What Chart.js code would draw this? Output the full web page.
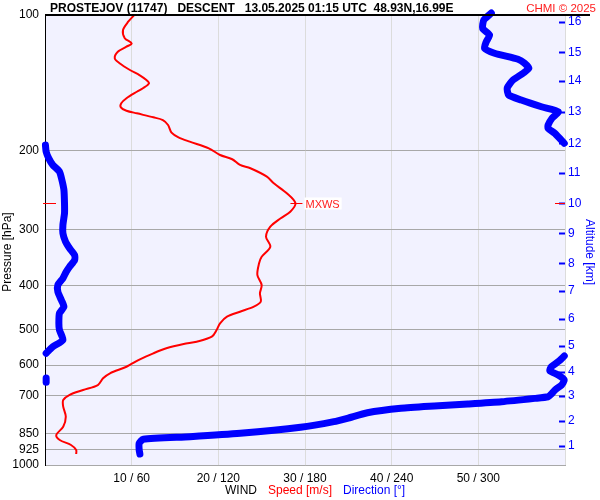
<!DOCTYPE html>
<html>
<head>
<meta charset="utf-8">
<script src="https://cdn.jsdelivr.net/npm/chart.js@4.4.1/dist/chart.umd.min.js"></script>
<style>
  html, body { margin: 0; padding: 0; background: #fff; }
  canvas { display: block; }
</style>
</head>
<body>
<canvas id="sounding" width="600" height="500"></canvas>
<script>
// left axis pressure levels [hPa]
const pressureTicks = [100, 200, 300, 400, 500, 600, 700, 850, 925, 1000];
// right axis: altitude [km] and the pressure level where each tick sits
const altitudeKm = [16, 15, 14, 13, 12, 11, 10, 9, 8, 7, 6, 5, 4, 3, 2, 1];
const altitudePressure = [103.5, 121, 140.2, 164, 192.8, 224.1, 262, 305.6, 356.3, 410, 473.8, 543.2, 620.5, 701.5, 798.5, 907.4];
// bottom axis labels: speed [m/s] / direction [deg]
const speedTicks = [10, 20, 30, 40, 50];
const directionTicks = [60, 120, 180, 240, 300];

// wind speed profile
const speedPressure = [100, 103.5, 108, 112.6, 115.6, 117.6, 120.7, 124.8, 128, 132.5, 136, 139.5, 141.9, 145.5, 148.1, 153.1, 157.1, 160.4, 163.2, 165.4, 168.8, 171.2, 175.6, 182.6, 187, 191.2, 197.8, 204.7, 209.2, 215.4, 219.1, 228.7, 236.6, 249, 262, 273.6, 283, 295.4, 310.9, 327.3, 344.5, 356.3, 378.2, 398.1, 415.4, 433.6, 444.9, 456.4, 468.2, 484.3, 501.2, 518.7, 532.1, 538.4, 550.4, 564.7, 582.3, 604.8, 625.5, 641.8, 664.2, 681.4, 699.1, 717.1, 742, 781, 822, 857.7, 880, 902.7, 926.1, 945.3];
const speedValues = [10.3, 9.6, 9.0, 9.2, 10.0, 9.4, 8.4, 8.05, 8.6, 9.8, 10.9, 11.7, 12.0, 11.3, 10.6, 9.4, 8.8, 8.75, 9.4, 10.6, 12.5, 13.6, 14.2, 14.6, 15.4, 16.7, 18.9, 20.2, 21.6, 22.5, 23.7, 25.6, 26.4, 27.9, 28.9, 28.3, 27.2, 26.0, 25.5, 26.0, 25.0, 24.7, 24.5, 25.0, 24.8, 24.9, 24.1, 22.5, 21.0, 20.2, 19.8, 19.25, 17.5, 16.0, 14.0, 12.5, 10.95, 9.4, 7.5, 6.7, 6.1, 4.4, 2.8, 2.1, 2.1, 2.4, 2.1, 1.3, 1.7, 3.0, 3.6, 3.6];

// wind direction profile, null = jump across 0/360
const dirPressure = [99, 102.6, 107.1, 110.8, 114.6, 118.6, 121.6, 125.4, 128, 131.4, 134.7, 139.5, 145.3, 150.6, 154.5, 159.9, 164, 169.6, 175.6, 178.6, 183.2, 192.8, null,
  194.5, 201.3, 208.2, 215.4, 222.9, 232.6, 244.8, 262, 275.9, 292.9, 305.6, 319, 330, 341.5, 350.4, 362.6, 372, 384.8, 398.1, 412, 429.9, 444.9, 460.2, 484.3, 501.2, 527.6, 546, 564.7, null,
  572.5, 589.4, 604.8, 617.2, 631, 647.3, 664.2, 681.4, 695.5, 705.2, 711.1, 723.4, 731.9, 739.5, 748.2, 765.2, 787.4, 801.2, 824.5, 850.5, 865.3, 876.9, 895, 926.1, 945.3, null,
  641, 655];
const dirValues = [309, 303.8, 303, 307.8, 305.5, 304.3, 311.2, 327.5, 332, 335, 331, 324, 320, 321, 329.7, 343.7, 355.3, 351, 348.3, 348.3, 353, 359.5, null,
  0.3, 0.8, 2.6, 5.4, 10, 11.7, 13.1, 13.5, 13.5, 12.4, 12.4, 14.2, 17, 20.5, 20.5, 17, 14.7, 12.4, 8.9, 8.9, 11.3, 13.1, 10, 9.6, 10, 12.4, 5.4, 0.8, null,
  359.5, 355.3, 350.6, 349.5, 355.3, 359.5, 357.6, 353, 350.6, 348.3, 339, 316, 292.7, 269.5, 246.4, 223.2, 209.3, 200, 176.9, 135.2, 100.4, 68, 65.2, 65.2, 65.7, null,
  0.8, 0.8];

// max wind marker
const mxwsPressure = 262;
const mxwsSpeed = 28.9;

const FONT = '"Liberation Sans", Arial, sans-serif';
Chart.defaults.font.family = FONT;
Chart.defaults.font.size = 12;
Chart.defaults.color = '#000';

function splitSegments(pres, vals) {
    var segs = [];
    var cur = [];
    pres.forEach(function (p, i) {
        if (p === null) {
            segs.push(cur);
            cur = [];
        } else {
            cur.push({ x: vals[i], y: p });
        }
    });
    segs.push(cur);
    return segs;
}

function hline(ctx, x1, x2, y) {
    ctx.beginPath();
    ctx.moveTo(x1, y);
    ctx.lineTo(x2, y);
    ctx.stroke();
}

const decorations = {
    id: 'decorations',
    beforeDraw: function (chart) {
        var a = chart.chartArea;
        var ctx = chart.ctx;
        ctx.save();
        ctx.fillStyle = '#f2f2ff';
        ctx.fillRect(a.left, a.top, a.right - a.left, a.bottom - a.top);
        ctx.restore();
    },
    afterDraw: function (chart) {
        var ctx = chart.ctx;
        var a = chart.chartArea;
        var ys = chart.scales.y;
        var xs = chart.scales.x;
        ctx.save();

        // top frame line
        ctx.strokeStyle = '#000';
        ctx.lineWidth = 2;
        hline(ctx, a.left, 590, a.top);

        // altitude tick marks
        ctx.strokeStyle = '#0000ff';
        ctx.lineWidth = 2;
        altitudePressure.forEach(function (p) {
            var y = Math.round(ys.getPixelForValue(p)) + 0.5;
            hline(ctx, a.right - 6, a.right, y);
        });

        // MXWS marker
        var my = Math.round(ys.getPixelForValue(mxwsPressure)) + 0.5;
        var mx = xs.getPixelForValue(mxwsSpeed);
        ctx.strokeStyle = '#ff0000';
        ctx.lineWidth = 1;
        hline(ctx, a.left - 2, a.left + 11, my);
        hline(ctx, a.right - 10, a.right, my);
        hline(ctx, mx - 5, mx + 7, my);
        ctx.font = '11px ' + FONT;
        ctx.textBaseline = 'middle';
        var w = ctx.measureText('MXWS').width;
        ctx.fillStyle = '#ffffff';
        ctx.fillRect(mx + 9, my - 6, w + 3, 12);
        ctx.fillStyle = '#ff2020';
        ctx.fillText('MXWS', mx + 10, my + 1);

        // title
        ctx.textBaseline = 'alphabetic';
        ctx.fillStyle = '#000';
        ctx.font = 'bold 12px ' + FONT;
        ctx.textAlign = 'left';
        ctx.fillText('PROSTEJOV (11747)   DESCENT   13.05.2025 01:15 UTC  48.93N,16.99E', 50, 12);
        ctx.font = '11.5px ' + FONT;
        ctx.fillStyle = '#ff2020';
        ctx.textAlign = 'right';
        ctx.fillText('CHMI \u00a9 2025', 596, 12);

        // bottom legend
        ctx.font = '12px ' + FONT;
        ctx.textAlign = 'left';
        ctx.textBaseline = 'middle';
        var x = 225;
        [['WIND', '#000'], ['Speed [m/s]', '#ff0000'], ['Direction [\u00b0]', '#0000ff']].forEach(function (t) {
            ctx.fillStyle = t[1];
            ctx.fillText(t[0], x, 491);
            x += ctx.measureText(t[0]).width + 11;
        });

        // axis titles
        ctx.textAlign = 'center';
        ctx.save();
        ctx.translate(8, 252);
        ctx.rotate(-Math.PI / 2);
        ctx.fillStyle = '#000';
        ctx.fillText('Pressure [hPa]', 0, 0);
        ctx.restore();
        ctx.save();
        ctx.translate(589, 252);
        ctx.rotate(Math.PI / 2);
        ctx.fillStyle = '#0000ff';
        ctx.fillText('Altitude [km]', 0, 0);
        ctx.restore();

        ctx.restore();
    }
};

var datasets = [{
    data: speedPressure.map(function (p, i) { return { x: speedValues[i], y: p }; }),
    xAxisID: 'x',
    yAxisID: 'y',
    borderColor: '#ff0000',
    borderWidth: 2,
    tension: 0.3,
    pointRadius: 0,
    showLine: true,
    clip: false
}];
splitSegments(dirPressure, dirValues).forEach(function (seg) {
    datasets.push({
        data: seg,
        xAxisID: 'xd',
        yAxisID: 'y',
        borderColor: '#0000ff',
        borderWidth: 7,
        borderCapStyle: 'round',
        borderJoinStyle: 'round',
        tension: 0.2,
        pointRadius: 0,
        showLine: true,
        clip: false
    });
});

new Chart(document.getElementById('sounding'), {
    type: 'scatter',
    data: { datasets: datasets },
    plugins: [decorations],
    options: {
        responsive: false,
        animation: false,
        layout: { padding: { top: 15, left: 0, right: 0, bottom: 0 } },
        plugins: { legend: { display: false }, tooltip: { enabled: false } },
        scales: {
            x: {
                type: 'linear',
                min: 0,
                max: 60,
                afterBuildTicks: function (s) {
                    s.ticks = [0, 10, 20, 30, 40, 50, 60].map(function (v) { return { value: v }; });
                },
                afterFit: function (s) { s.height = 35; },
                grid: {
                    drawTicks: false,
                    color: function (c) { return c.tick && c.tick.value === 0 ? 'rgba(0,0,0,0)' : '#dcdcdc'; }
                },
                border: { color: '#a8a8a8' },
                ticks: {
                    padding: 6,
                    autoSkip: false,
                    maxRotation: 0,
                    callback: function (v) {
                        var i = speedTicks.indexOf(v);
                        return i < 0 ? '' : v + ' / ' + directionTicks[i];
                    }
                }
            },
            xd: { type: 'linear', min: 0, max: 360, display: false },
            y: {
                type: 'logarithmic',
                position: 'left',
                reverse: true,
                min: 100,
                max: 1000,
                afterBuildTicks: function (s) {
                    s.ticks = pressureTicks.map(function (v) { return { value: v }; });
                },
                afterFit: function (s) { s.width = 45; },
                grid: {
                    drawTicks: false,
                    color: function (c) { return c.tick && c.tick.value === 100 ? 'rgba(0,0,0,0)' : '#a8a8a8'; }
                },
                border: { color: '#000', width: 1 },
                ticks: {
                    padding: 6,
                    autoSkip: false,
                    callback: function (v) { return String(v); }
                }
            },
            y2: {
                type: 'logarithmic',
                position: 'right',
                reverse: true,
                min: 100,
                max: 1000,
                afterBuildTicks: function (s) {
                    s.ticks = altitudePressure.map(function (v) { return { value: v }; });
                },
                afterFit: function (s) { s.width = 35; },
                grid: { drawOnChartArea: false, drawTicks: false },
                border: { display: false },
                ticks: {
                    padding: 3,
                    autoSkip: false,
                    color: '#0000ff',
                    callback: function (v, i) { return String(altitudeKm[i]); }
                }
            }
        }
    }
});
</script>
</body>
</html>
